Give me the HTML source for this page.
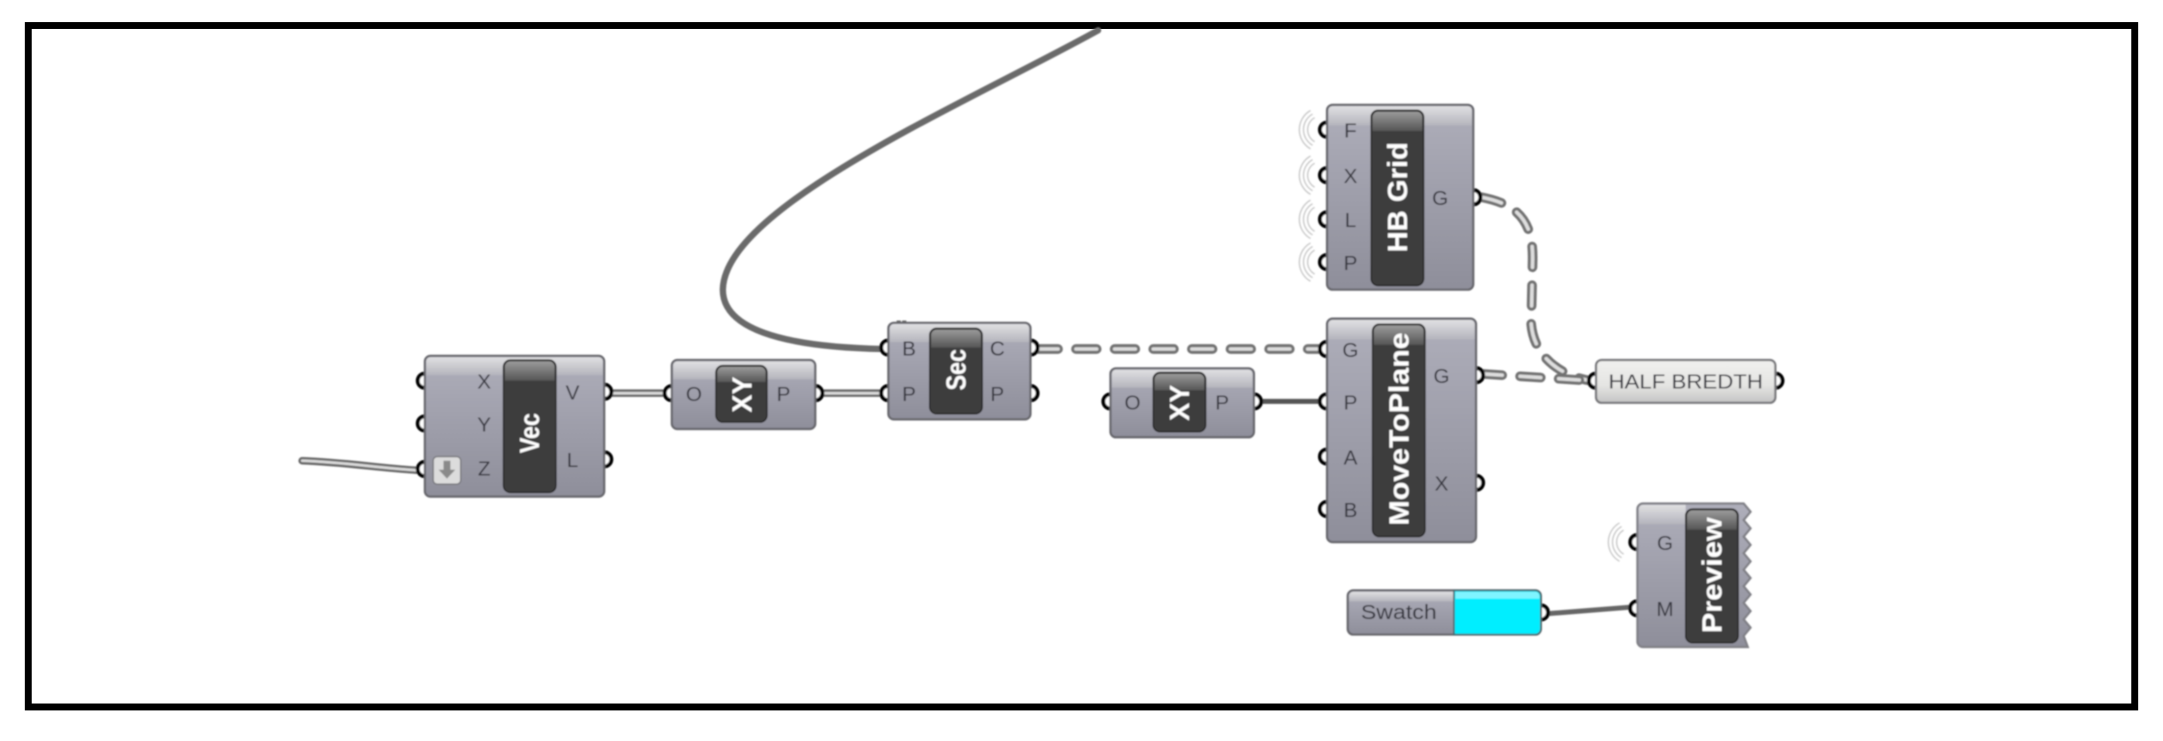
<!DOCTYPE html>
<html><head><meta charset="utf-8"><title>Diagram</title>
<style>
html,body{margin:0;padding:0;background:#fff;width:2163px;height:741px;overflow:hidden}
svg{display:block}
text{font-family:"Liberation Sans",sans-serif}
.l{font-size:15px;fill:#35353d;text-anchor:middle;dominant-baseline:central}
.t{font-size:20px;font-weight:bold;fill:#fff;text-anchor:middle;dominant-baseline:central}
.b{fill:url(#body);stroke:#66666c;stroke-width:1.6}
.band{fill:url(#band)}
.c{fill:#3c3c3e;stroke:#222;stroke-width:1}
.cb{fill:url(#cband)}
.p{fill:#fff;stroke:#000;stroke-width:2.8}
.w{fill:none;stroke:#686868;stroke-width:5.4;stroke-linecap:round}
.wi{fill:none;stroke:#dcdcdc;stroke-width:1.9;stroke-linecap:round}
.d{fill:none;stroke:#727272;stroke-width:7;stroke-linecap:round;stroke-dasharray:15 13}
.di{fill:none;stroke:#dedede;stroke-width:2.6;stroke-linecap:round;stroke-dasharray:15 13}
.r{fill:none;stroke:#c9c9c9;stroke-width:1}
</style></head><body>
<svg xmlns="http://www.w3.org/2000/svg" width="2163" height="741" viewBox="0 0 1568 537.17">
<defs>
<linearGradient id="body" x1="0" y1="0" x2="0" y2="1"><stop offset="0" stop-color="#aeaeba"/><stop offset="1" stop-color="#8e8e9a"/></linearGradient>
<linearGradient id="band" x1="0" y1="0" x2="0" y2="1"><stop offset="0" stop-color="#e0e0e2"/><stop offset="1" stop-color="#b4b4bc"/></linearGradient>
<linearGradient id="cband" x1="0" y1="0" x2="0" y2="1"><stop offset="0" stop-color="#9a9a9a"/><stop offset="1" stop-color="#555"/></linearGradient>
<linearGradient id="param" x1="0" y1="0" x2="0" y2="1"><stop offset="0" stop-color="#f0f0ee"/><stop offset=".6" stop-color="#e4e4e2"/><stop offset="1" stop-color="#c4c4c4"/></linearGradient>
<filter id="soft" x="-2%" y="-2%" width="104%" height="104%"><feGaussianBlur stdDeviation="0.55"/></filter>
<g id="rip"><path class="r" d="M-5,-8.7A10,10 0 0 0 -5,8.7"/><path class="r" d="M-6.5,-11.3A13,13 0 0 0 -6.5,11.3"/><path class="r" d="M-8,-13.9A16,16 0 0 0 -8,13.9"/></g>
</defs>

<!-- frame -->
<rect x="20.5" y="18.5" width="1527" height="494" fill="#fff" stroke="#000" stroke-width="5"/>

<g filter="url(#soft)">
<!-- wires -->
<path d="M796,22C700,75 525,150 524,210C524,245 590,252 640,253" fill="none" stroke="#6a6a6a" stroke-width="4.6" stroke-linecap="round"/>
<path class="w" d="M219,334C250,335 280,340 305,341"/><path class="wi" d="M219,334C250,335 280,340 305,341"/>
<path class="w" d="M442,285L484,285"/><path class="wi" d="M442,285L484,285"/>
<path class="w" d="M595,285L641,285"/><path class="wi" d="M595,285L641,285"/>
<path d="M913,291L959,291" fill="none" stroke="#555" stroke-width="3.6"/>
<path d="M1120,445L1184,440" fill="none" stroke="#666" stroke-width="3.6"/>
<path class="d" d="M752,253L958,253"/><path class="di" d="M752,253L958,253"/>
<path class="d" d="M1074,143C1100,148 1112,160 1111,190L1110,235C1112,258 1130,272 1153,276"/><path class="di" d="M1074,143C1100,148 1112,160 1111,190L1110,235C1112,258 1130,272 1153,276"/>
<path class="d" d="M1074,271L1153,276"/><path class="di" d="M1074,271L1153,276"/>

<!-- ripples -->
<use href="#rip" x="958" y="94"/><use href="#rip" x="958" y="127"/><use href="#rip" x="958" y="159"/><use href="#rip" x="958" y="190"/>
<use href="#rip" x="1182" y="393"/>

<!-- Vec -->
<circle class="p" cx="308" cy="276" r="5.2"/><circle class="p" cx="308" cy="307" r="5.2"/><circle class="p" cx="308" cy="340" r="5.2"/>
<circle class="p" cx="438" cy="284" r="5.2"/><circle class="p" cx="438" cy="333" r="5.2"/>
<rect class="b" x="308" y="258" width="130" height="102" rx="4"/>
<path class="band" d="M309,272V262a3,3 0 0 1 3,-3H434a3,3 0 0 1 3,3V272Z"/>
<rect class="c" x="365" y="261" width="38" height="96" rx="5"/><path class="cb" d="M366,276V266a4,4 0 0 1 4,-4H398a4,4 0 0 1 4,4V276Z"/>
<text class="l" x="351" y="277">X</text><text class="l" x="351" y="308">Y</text><text class="l" x="351" y="340">Z</text>
<text class="l" x="415" y="285">V</text><text class="l" x="415" y="334">L</text>
<rect x="314" y="331" width="20" height="20" rx="3" fill="#dcdcdc" stroke="#77777c"/>
<path d="M321.5,334h5v6.5h3.5l-6,6.5l-6,-6.5h3.5z" fill="#8a8a8a"/>
<text class="t" transform="translate(384 314) rotate(-90)" textLength="29" lengthAdjust="spacingAndGlyphs">Vec</text>

<!-- XY 1 -->
<circle class="p" cx="487" cy="285" r="5.2"/><circle class="p" cx="591" cy="285" r="5.2"/>
<rect class="b" x="487" y="261" width="104" height="50" rx="4"/>
<path class="band" d="M488,275V265a3,3 0 0 1 3,-3H587a3,3 0 0 1 3,3V275Z"/>
<rect class="c" x="519" y="265" width="37" height="41" rx="5"/><path class="cb" d="M520,277V270a4,4 0 0 1 4,-4H551a4,4 0 0 1 4,4V277Z"/>
<text class="l" x="503" y="286">O</text><text class="l" x="568" y="286">P</text>
<text class="t" transform="translate(538 286) rotate(-90)" textLength="26" lengthAdjust="spacingAndGlyphs">XY</text>

<!-- Sec -->
<circle class="p" cx="644" cy="252" r="5.2"/><circle class="p" cx="644" cy="285" r="5.2"/><circle class="p" cx="747" cy="252" r="5.2"/><circle class="p" cx="747" cy="285" r="5.2"/>
<rect class="b" x="644" y="234" width="103" height="70" rx="4"/>
<path class="band" d="M645,248V238a3,3 0 0 1 3,-3H743a3,3 0 0 1 3,3V248Z"/>
<path d="M650,233h8" stroke="#666" stroke-width="1.4" stroke-dasharray="3 1"/>
<rect class="c" x="674" y="238" width="38" height="62" rx="5"/><path class="cb" d="M675,252V243a4,4 0 0 1 4,-4H707a4,4 0 0 1 4,4V252Z"/>
<text class="l" x="659" y="253">B</text><text class="l" x="659" y="286">P</text><text class="l" x="723" y="253">C</text><text class="l" x="723" y="286">P</text>
<text class="t" transform="translate(693 268) rotate(-90)" textLength="30" lengthAdjust="spacingAndGlyphs">Sec</text>

<!-- XY 2 -->
<circle class="p" cx="805" cy="291" r="5.2"/><circle class="p" cx="909" cy="291" r="5.2"/>
<rect class="b" x="805" y="267" width="104" height="50" rx="4"/>
<path class="band" d="M806,281V271a3,3 0 0 1 3,-3H905a3,3 0 0 1 3,3V281Z"/>
<rect class="c" x="836" y="270" width="38" height="43" rx="5"/><path class="cb" d="M837,283V275a4,4 0 0 1 4,-4H869a4,4 0 0 1 4,4V283Z"/>
<text class="l" x="821" y="292">O</text><text class="l" x="886" y="292">P</text>
<text class="t" transform="translate(855 292) rotate(-90)" textLength="26" lengthAdjust="spacingAndGlyphs">XY</text>

<!-- MoveToPlane -->
<circle class="p" cx="962" cy="253" r="5.2"/><circle class="p" cx="962" cy="291" r="5.2"/><circle class="p" cx="962" cy="331" r="5.2"/><circle class="p" cx="962" cy="369" r="5.2"/>
<circle class="p" cx="1070" cy="272" r="5.2"/><circle class="p" cx="1070" cy="350" r="5.2"/>
<rect class="b" x="962" y="231" width="108" height="162" rx="4"/>
<path class="band" d="M963,246V235a3,3 0 0 1 3,-3H1066a3,3 0 0 1 3,3V246Z"/>
<rect class="c" x="995" y="235" width="38" height="154" rx="5"/><path class="cb" d="M996,250V240a4,4 0 0 1 4,-4H1028a4,4 0 0 1 4,4V250Z"/>
<text class="l" x="979" y="254">G</text><text class="l" x="979" y="292">P</text><text class="l" x="979" y="332">A</text><text class="l" x="979" y="370">B</text>
<text class="l" x="1045" y="273">G</text><text class="l" x="1045" y="351">X</text>
<text class="t" transform="translate(1014 311) rotate(-90)" textLength="140" lengthAdjust="spacingAndGlyphs">MoveToPlane</text>

<!-- HB Grid -->
<circle class="p" cx="962" cy="94" r="5.2"/><circle class="p" cx="962" cy="127" r="5.2"/><circle class="p" cx="962" cy="159" r="5.2"/><circle class="p" cx="962" cy="190" r="5.2"/>
<circle class="p" cx="1068" cy="143" r="5.2"/>
<rect class="b" x="962" y="76" width="106" height="134" rx="4"/>
<path class="band" d="M963,91V80a3,3 0 0 1 3,-3H1064a3,3 0 0 1 3,3V91Z"/>
<rect class="c" x="994" y="80" width="38" height="127" rx="5"/><path class="cb" d="M995,95V85a4,4 0 0 1 4,-4H1027a4,4 0 0 1 4,4V95Z"/>
<text class="l" x="979" y="95">F</text><text class="l" x="979" y="128">X</text><text class="l" x="979" y="160">L</text><text class="l" x="979" y="191">P</text>
<text class="l" x="1044" y="144">G</text>
<text class="t" transform="translate(1013 143) rotate(-90)" textLength="80" lengthAdjust="spacingAndGlyphs">HB Grid</text>

<!-- Half Bredth -->
<circle class="p" cx="1157" cy="276" r="5.2"/><circle class="p" cx="1287" cy="276" r="5.2"/>
<rect x="1157" y="261" width="130" height="31" rx="4" fill="url(#param)" stroke="#77777a" stroke-width="1.6"/>
<text class="l" x="1222" y="277" textLength="112" lengthAdjust="spacingAndGlyphs">HALF BREDTH</text>

<!-- Preview -->
<circle class="p" cx="1187" cy="393" r="5.2"/><circle class="p" cx="1187" cy="441" r="5.2"/>
<path class="b" style="stroke:#808086" d="M1191,365H1264L1269,371L1264,377L1269,383L1264,389L1269,395L1264,401L1269,407L1264,413L1269,419L1264,425L1269,431L1264,437L1269,443L1264,449L1269,455L1264,461L1267,469H1191a4,4 0 0 1 -4,-4V369a4,4 0 0 1 4,-4Z"/>
<path class="band" d="M1188,380V369a3,3 0 0 1 3,-3H1222V380Z"/>
<rect class="c" x="1222" y="369" width="38" height="97" rx="5"/><path class="cb" d="M1223,384V374a4,4 0 0 1 4,-4H1255a4,4 0 0 1 4,4V384Z"/>
<text class="l" x="1207" y="394">G</text><text class="l" x="1207" y="442">M</text>
<text class="t" transform="translate(1241 417) rotate(-90)" textLength="84" lengthAdjust="spacingAndGlyphs">Preview</text>

<!-- Swatch -->
<circle class="p" cx="1117" cy="444" r="5.2"/>
<rect class="b" x="977" y="428" width="140" height="32" rx="4"/>
<path class="band" d="M978,436V432a3,3 0 0 1 3,-3H1054V436Z"/>
<path d="M1054,428H1113a4,4 0 0 1 4,4V456a4,4 0 0 1 -4,4H1054Z" fill="#00eeff" stroke="#4a6a70" stroke-width="1.2"/>
<path d="M1055,429H1113a3,3 0 0 1 3,3V434H1055Z" fill="#7ff4ff"/>
<text class="l" x="1014" y="444" textLength="55" lengthAdjust="spacingAndGlyphs">Swatch</text>
</g>
</svg>
</body></html>
